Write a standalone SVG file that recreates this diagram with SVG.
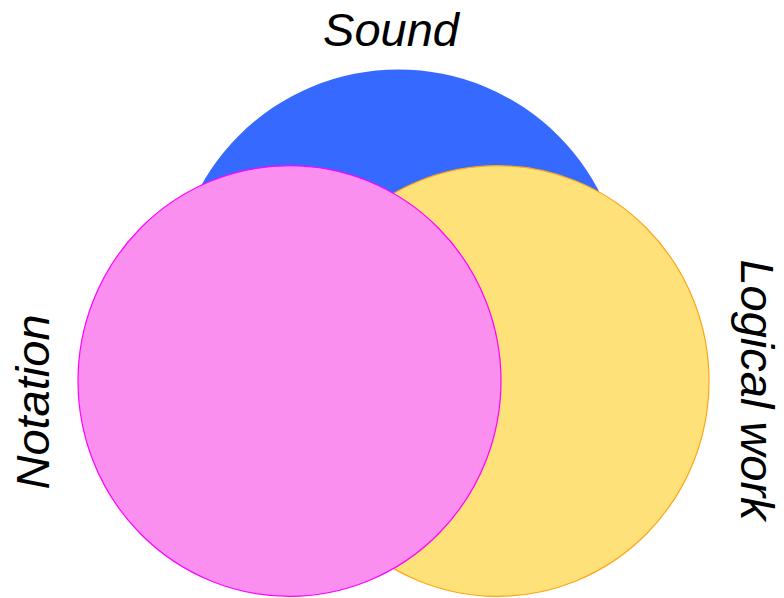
<svg xmlns="http://www.w3.org/2000/svg" width="784" height="598" viewBox="0 0 784 598">
<style>
.lbl{font-family:"Liberation Sans",Arial,sans-serif;font-style:italic;font-size:47px;fill:#000;}
</style>
<rect width="784" height="598" fill="#fff"/>
<g id="sound">
<circle cx="398.5" cy="295.5" r="226" fill="#3669FF"/>
</g>
<g id="logical-work">
<ellipse cx="497.5" cy="381" rx="211.5" ry="215.3" fill="#FFE17A" stroke="#FFA515" stroke-width="1.2"/>
</g>
<g id="notation">
<ellipse cx="289.5" cy="381" rx="211.5" ry="215.3" fill="#FA8FF0" stroke="#FF00FF" stroke-width="1.2"/>
</g>
<g id="labels">
<text class="lbl" x="391" y="46" text-anchor="middle">Sound</text>
<text class="lbl" text-anchor="middle" transform="translate(49,402) rotate(-90)">Notation</text>
<text class="lbl" text-anchor="middle" transform="translate(741,390) rotate(90)">Logical work</text>
</g>
<g id="connectors"></g>
</svg>
